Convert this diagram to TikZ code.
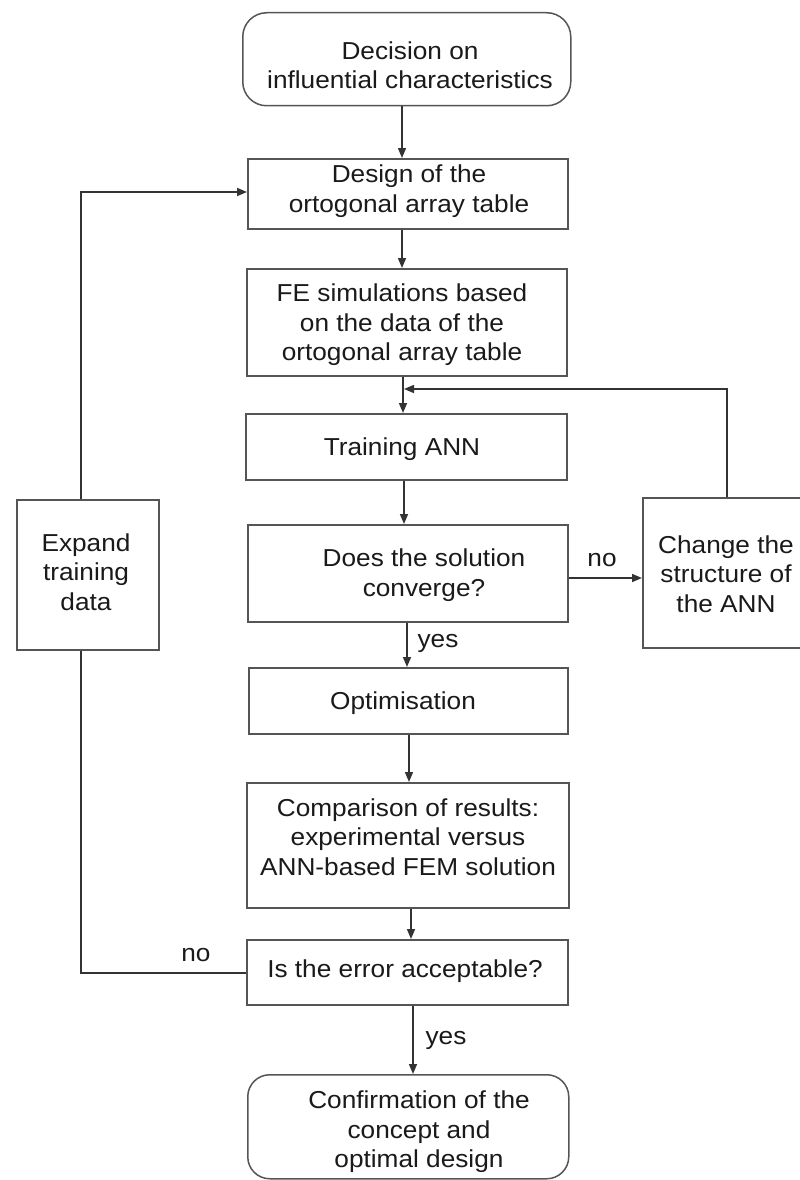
\documentclass[tikz,border=0pt]{standalone}
\usepackage{fontspec}
\setmainfont{Liberation Sans}[FakeStretch=1.07]
\usetikzlibrary{arrows.meta}
\definecolor{boxgray}{HTML}{555555}
\definecolor{linecol}{HTML}{333333}
\definecolor{txtcol}{HTML}{1A1A1A}
\begin{document}
\begin{tikzpicture}[x=1pt,y=-1pt,
  box/.style={draw=boxgray, line width=1.5pt, inner sep=0pt, anchor=north west},
  rbox/.style={box, rounded corners=24pt},
  txt/.style={text=txtcol, font=\fontsize{24.5}{29.5}\selectfont, align=center, inner sep=0pt},
  conn/.style={draw=linecol, line width=1.5pt},
  arr/.style={conn, -{Triangle[length=10pt,width=8pt]}}]
\useasboundingbox (0,0) rectangle (800,1180);
\fill[white] (0,0) rectangle (800,1180);

% boxes
\node[rbox, minimum width=328pt, minimum height=93pt] (dec) at (242,12) {};
\node[box, minimum width=320pt, minimum height=70pt] (des) at (247,158) {};
\node[box, minimum width=320pt, minimum height=107pt] (fe) at (246,268) {};
\node[box, minimum width=321pt, minimum height=66pt] (tr) at (245,413) {};
\node[box, minimum width=320pt, minimum height=97pt] (conv) at (247,524) {};
\node[box, minimum width=168pt, minimum height=150pt] (chg) at (642,497) {};
\node[box, minimum width=142pt, minimum height=150pt] (exp) at (16,499) {};
\node[box, minimum width=319pt, minimum height=66pt] (opt) at (248,667) {};
\node[box, minimum width=322pt, minimum height=125pt] (cmp) at (246,782) {};
\node[box, minimum width=321pt, minimum height=65pt] (err) at (246,939) {};
\node[rbox, rounded corners=22pt, minimum width=321pt, minimum height=104pt] (conf) at (247,1074) {};

% texts
\node[txt] (tdec) at (410,65) {Decision on\\influential characteristics};
\node[txt] (tdes) at (409,191) {Design of the\\ortogonal array table};
\node[txt] (tfe) at (402,325) {FE simulations based\\on the data of the\\ortogonal array table};
\node[txt] (ttr) at (402,449) {Training ANN};
\node[txt] (tconv) at (424,575) {Does the solution\\converge?};
\node[txt] (tchg) at (726,574) {Change the\\structure of\\the ANN};
\node[txt] (texp) at (86,572) {Expand\\training\\data};
\node[txt] (topt) at (403,703) {Optimisation};
\node[txt] (tcmp) at (408,837) {Comparison of results:\\experimental versus\\ANN-based FEM solution};
\node[txt] (terr) at (405,971) {Is the error acceptable?};
\node[txt] (tconf) at (419,1132) {Confirmation of the\\concept and\\optimal design};

% labels
\node[txt] (lno1) at (602,560) {no};
\node[txt] (lyes1) at (438,643) {yes};
\node[txt] (lno2) at (196,955) {no};
\node[txt] (lyes2) at (446,1040) {yes};

% connectors
\draw[arr] (dec.south -| 402,0) -- (des.north -| 402,0);
\draw[arr] (des.south -| 402,0) -- (fe.north -| 402,0);
\draw[arr] (fe.south -| 403,0) -- (tr.north -| 403,0);
\draw[arr] (tr.south -| 404,0) -- (conv.north -| 404,0);
\draw[arr] (conv.south -| 407,0) -- (opt.north -| 407,0);
\draw[arr] (opt.south -| 409,0) -- (cmp.north -| 409,0);
\draw[arr] (cmp.south -| 411,0) -- (err.north -| 411,0);
\draw[arr] (err.south -| 413,0) -- (conf.north -| 413,0);
\draw[arr] (conv.east |- 0,578) -- (chg.west |- 0,578);
\coordinate (fb) at (404,389);
\draw[arr] (chg.north) |- (fb);
\draw[conn] (err.west |- 0,973) -| (exp.south -| 81,0);
\draw[arr] (exp.north -| 81,0) |- (des.west |- 0,192);
\end{tikzpicture}
\end{document}
